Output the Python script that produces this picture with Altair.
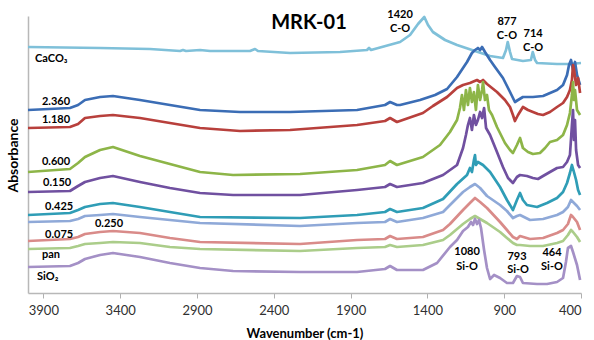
import altair as alt
import pandas as pd

# ---------------- data ----------------
series_names = ["CaCO3", "2.360", "1.180", "0.600", "0.150", "0.425", "0.250", "0.075", "pan", "SiO2"]
series_colors = ["#7fc0d9", "#3b6db5", "#b8403c", "#8db548", "#7050a0", "#2f9db6",
                 "#8fa9d8", "#d98b89", "#abcd8a", "#a490c6"]

caco3_wn = [4000, 3531, 3206, 3010, 2991, 2971, 2880, 2815, 2555, 2522, 2503, 2294, 1969, 1793, 1780, 1767,
            1578, 1513, 1461, 1420, 1396, 1364, 1285, 1207, 1110, 992, 908, 888, 877, 862, 849, 778, 726,
            714, 699, 686, 556, 472, 400]
caco3_abs = [246, 245, 244, 242, 243, 242, 243, 242, 242, 244, 242, 240, 241, 243, 245, 243,
             251, 258, 269, 276, 268, 261, 253, 248, 243, 237, 235, 243, 251, 241, 234, 232, 233,
             241, 233, 230, 229, 229, 230]

s2360_wn = [4000, 3727, 3674, 3629, 3531, 3447, 3271, 3076, 2880, 2620, 2294, 1858, 1676, 1643, 1598,
            1578, 1448, 1350, 1272, 1207, 1142, 1110, 1090, 1071, 1057, 1044, 1025, 992, 960, 908, 862,
            830, 810, 778, 713, 647, 556, 517, 491, 478, 465, 452, 439, 426, 406]
s2360_abs = [183, 185, 188, 193, 196, 197, 193, 188, 183, 181, 181, 183, 188, 191, 188,
             188, 193, 198, 204, 216, 231, 240, 243, 245, 243, 246, 241, 233, 226, 215, 201,
             191, 193, 196, 196, 197, 203, 208, 218, 228, 233, 223, 231, 218, 208]

s1180_wn = [4000, 3727, 3674, 3629, 3531, 3447, 3271, 3076, 2880, 2620, 2294, 1858, 1676, 1643, 1598,
            1429, 1364, 1272, 1207, 1168, 1123, 1077, 1057, 1038, 1012, 947, 895, 862, 843, 830, 810,
            778, 745, 713, 680, 647, 602, 556, 517, 491, 472, 459, 452, 445, 432, 419, 406]
s1180_abs = [165, 166, 169, 175, 177, 178, 175, 170, 165, 162, 163, 168, 172, 175, 171,
             180, 187, 196, 205, 208, 210, 213, 211, 213, 209, 201, 193, 186, 178, 172, 178,
             186, 183, 181, 179, 178, 181, 186, 190, 196, 203, 213, 228, 223, 208, 215, 200]

s0600_wn = [4000, 3727, 3674, 3629, 3531, 3447, 3271, 3076, 2880, 2665, 2229, 1858, 1676, 1643, 1598,
            1429, 1318, 1253, 1207, 1188, 1175, 1162, 1149, 1136, 1123, 1110, 1097, 1084, 1071, 1057,
            1044, 1038, 1025, 1012, 999, 979, 947, 895, 862, 843, 817, 797, 778, 745, 713, 667, 634,
            602, 556, 517, 491, 472, 459, 452, 446, 439, 426, 406]
s0600_abs = [121, 124, 130, 136, 143, 146, 137, 129, 121, 118, 119, 123, 128, 132, 128,
             136, 148, 161, 173, 185, 198, 183, 203, 188, 205, 191, 201, 183, 208, 193,
             203, 211, 193, 198, 183, 178, 166, 150, 143, 140, 148, 155, 145, 141, 139, 140, 145,
             151, 153, 158, 168, 180, 198, 211, 193, 203, 183, 178]

s0150_wn = [4000, 3727, 3674, 3629, 3531, 3447, 3271, 3076, 2880, 2665, 2229, 1858, 1676, 1643, 1598,
            1429, 1298, 1207, 1168, 1149, 1136, 1123, 1110, 1097, 1084, 1071, 1057, 1044, 1031, 1018,
            992, 947, 908, 875, 843, 817, 797, 752, 713, 680, 647, 602, 556, 517, 491, 472, 459,
            452, 446, 439, 432, 419, 406]
s0150_abs = [101, 102, 107, 111, 115, 117, 111, 105, 100, 98, 98, 103, 106, 109, 106,
             110, 118, 128, 145, 158, 168, 175, 163, 178, 168, 173, 181, 175, 185, 165,
             158, 141, 126, 115, 110, 116, 118, 117, 115, 114, 117, 121, 125, 126, 131, 138, 168,
             183, 153, 173, 143, 128, 125]

s0425_wn = [4000, 3727, 3674, 3629, 3531, 3447, 3271, 3076, 2880, 2229, 1858, 1676, 1643, 1598,
            1429, 1298, 1207, 1142, 1123, 1110, 1097, 1090, 1084, 1071, 1038, 992, 927, 882, 843,
            817, 797, 778, 752, 686, 621, 556, 517, 491, 472, 459, 446, 432, 419, 406]
s0425_abs = [78, 80, 83, 86, 89, 90, 86, 81, 76, 75, 78, 81, 84, 81,
             85, 94, 109, 118, 125, 121, 133, 138, 128, 131, 128, 121, 106, 93, 83,
             93, 100, 93, 88, 86, 90, 95, 101, 110, 120, 128, 121, 113, 103, 98]

low_wn = [4000, 3727, 3674, 3629, 3531, 3447, 3271, 3076, 2880, 2229, 1858, 1676, 1643, 1598,
          1429, 1298, 1253, 1168, 1123, 1090, 1057, 1012, 927, 882, 843, 817, 797, 732, 647,
          556, 517, 485, 465, 452, 426, 406]
s0250_abs = [71, 72, 74, 77, 78, 79, 76, 73, 70, 67, 70, 71, 74, 71,
             75, 81, 88, 101, 106, 109, 105, 97, 88, 82, 75, 77, 78, 73, 74,
             78, 81, 86, 93, 91, 87, 83]
s0075_abs = [52, 54, 56, 59, 61, 62, 60, 55, 51, 49, 53, 54, 57, 54,
             56, 63, 69, 83, 90, 95, 91, 85, 71, 63, 56, 54, 57, 54, 55,
             60, 63, 69, 78, 76, 71, 63]
pan_abs = [44, 45, 47, 49, 50, 51, 50, 46, 44, 42, 45, 46, 48, 46,
           48, 53, 58, 69, 74, 77, 74, 70, 61, 55, 50, 48, 48, 47, 47,
           50, 52, 58, 63, 61, 56, 51]

sio2_wn = [4000, 3727, 3674, 3629, 3531, 3447, 3271, 3076, 2880, 2665, 2229, 1858, 1676, 1643, 1598,
           1429, 1337, 1253, 1207, 1168, 1136, 1116, 1103, 1090, 1077, 1064, 1051, 1031, 1012, 992,
           966, 927, 882, 843, 817, 797, 778, 686, 621, 556, 517, 498, 485, 465, 452, 426, 406]
sio2_abs = [26, 27, 30, 34, 38, 40, 36, 30, 25, 22, 21, 21, 24, 27, 23,
            23, 30, 46, 53, 62, 66, 71, 68, 74, 69, 73, 65, 43, 25, 14,
            18, 15, 10, 10, 17, 16, 10, 9, 9, 11, 15, 31, 45, 47, 41, 28, 13]

sample_label_text = ["CaCO\u2083", "2.360", "1.180", "0.600", "0.150", "0.425", "0.250", "0.075", "pan", "SiO\u2082"]
sample_label_wn = [3954, 3909, 3909, 3909, 3902, 3889, 3564, 3889, 3909, 3941]
sample_label_abs = [234, 191, 173, 131, 110, 86, 69, 58, 38, 16]

peak_label_text = ["1420", "C-O", "877", "C-O", "714", "C-O", "1080", "Si-O", "793", "Si-O", "464", "Si-O"]
peak_label_wn = [1578, 1578, 882, 882, 712, 712, 1142, 1142, 817, 810, 589, 589]
peak_label_abs = [278, 264, 271, 257, 259, 245, 41, 26, 36, 23, 40, 26]

title_text = ["MRK-01"]
title_wn = [2171]
title_abs = [270]

x_ticks = [3900, 3400, 2900, 2400, 1900, 1400, 900, 400]

# ---------------- build table ----------------
series_data = [
    (caco3_wn, caco3_abs), (s2360_wn, s2360_abs), (s1180_wn, s1180_abs), (s0600_wn, s0600_abs),
    (s0150_wn, s0150_abs), (s0425_wn, s0425_abs), (low_wn, s0250_abs), (low_wn, s0075_abs),
    (low_wn, pan_abs), (sio2_wn, sio2_abs),
]
rows = []
for order, (name, (wn, ab)) in enumerate(zip(series_names, series_data)):
    for w, a in zip(wn, ab):
        rows.append({"sample": name, "order": order, "wn": w, "abs": a})
df = pd.DataFrame(rows)

FONT = "Lato"
x_enc = alt.X("wn:Q",
              scale=alt.Scale(domain=[400, 4000], reverse=True, nice=False, zero=False),
              axis=alt.Axis(values=x_ticks, format="d", grid=False, title="Wavenumber (cm-1)",
                            labelFont=FONT, labelFontSize=13, labelColor="#303030",
                            labelPadding=6, tickSize=5, tickColor="#b0b0b0",
                            domainColor="#b8b8b8", domainWidth=1.5,
                            titleFont=FONT, titleFontSize=13, titleFontWeight="bold",
                            titleColor="#000000", titleBaseline="middle", titleY=40))
y_enc = alt.Y("abs:Q",
              scale=alt.Scale(domain=[0, 277], nice=False, zero=False),
              axis=alt.Axis(labels=False, ticks=False, grid=False, title="Absorbance",
                            domainColor="#b8b8b8", domainWidth=1.5,
                            titleFont=FONT, titleFontSize=14, titleFontWeight="bold",
                            titleColor="#000000", titleAngle=-90, titleBaseline="middle",
                            titleX=-15, titleY=139, titleAlign="center"))

lines = alt.Chart(df).mark_line(strokeWidth=2.7, strokeJoin="round").encode(
    x=x_enc, y=y_enc,
    color=alt.Color("sample:N", scale=alt.Scale(domain=series_names, range=series_colors), legend=None),
    detail="sample:N",
)

sample_df = pd.DataFrame({"t": sample_label_text, "wn": sample_label_wn, "abs": sample_label_abs})
peak_df = pd.DataFrame({"t": peak_label_text, "wn": peak_label_wn, "abs": peak_label_abs})
title_df = pd.DataFrame({"t": title_text, "wn": title_wn, "abs": title_abs})

sample_text = alt.Chart(sample_df).mark_text(
    align="left", baseline="middle", font=FONT, fontSize=11, fontWeight="bold", color="#000000"
).encode(x="wn:Q", y="abs:Q", text="t:N")

peak_text = alt.Chart(peak_df).mark_text(
    align="center", baseline="middle", font=FONT, fontSize=11, fontWeight="bold", color="#000000"
).encode(x="wn:Q", y="abs:Q", text="t:N")

title_mark = alt.Chart(title_df).mark_text(
    align="center", baseline="middle", font=FONT, fontSize=20, fontWeight="bold", color="#000000"
).encode(x="wn:Q", y="abs:Q", text="t:N")

chart = alt.layer(lines, sample_text, peak_text, title_mark).properties(
    width=553, height=277,
    autosize=alt.AutoSizeParams(type="none"),
    padding={"left": 28, "top": 16, "right": 13, "bottom": 47},
    background="#ffffff",
).configure_view(stroke=None)

chart.save("out.html", embed_options={"renderer": "svg", "actions": False})
